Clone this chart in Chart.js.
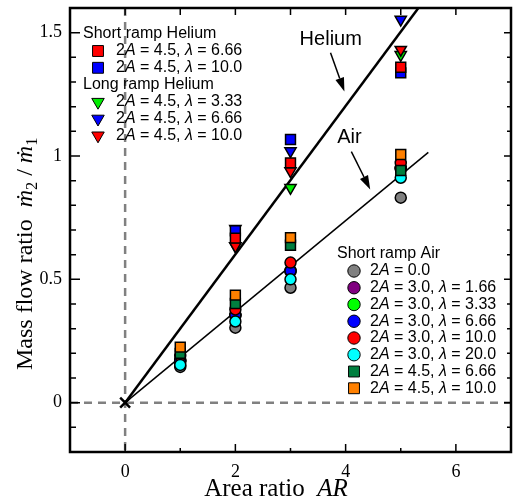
<!DOCTYPE html>
<html>
<head>
<meta charset="utf-8">
<script src="https://cdn.jsdelivr.net/npm/chart.js@4"></script>
<style>
  html, body { margin: 0; padding: 0; background: #fff; }
  canvas { display: block; }
</style>
</head>
<body>
<canvas id="chart" width="513" height="502"></canvas>
<script>
// ---- data ----
const airX = [1, 2, 3, 5];
const air00 = [0.145, 0.304, 0.466, 0.831];
const air30l166 = [0.168, 0.352, 0.532, 0.948];
const air30l333 = [0.172, 0.357, 0.536, 0.952];
const air30l666 = [0.170, 0.355, 0.534, 0.950];
const air30l10 = [0.190, 0.378, 0.568, 0.972];
const air30l20 = [0.153, 0.329, 0.500, 0.912];
const air45l666 = [0.200, 0.402, 0.638, 0.941];
const air45l10 = [0.225, 0.436, 0.669, 1.006];

const heX = [2, 3, 5];
const heShort666 = [0.667, 0.972, 1.360];
const heShort10 = [0.697, 1.067, 1.337];
const heLong333 = [0.635, 0.871, 1.410];
const heLong666 = [0.705, 1.020, 1.553];
const heLong10 = [0.635, 0.939, 1.431];

// fitted lines (end points)
const heliumFitX = [0, 5.32];
const heliumFitY = [0, 1.6];
const airFitX = [0, 5.5];
const airFitY = [0, 1.015];

const xMajor = [0, 2, 4, 6];
const xMinor = [1, 3, 5];
const yMajor = [0, 0.5, 1, 1.5];
const yMinor = [-0.1, 0.1, 0.2, 0.3, 0.4, 0.6, 0.7, 0.8, 0.9, 1.1, 1.2, 1.3, 1.4];
const xTop = [0, 1, 2, 3, 4, 5, 6];

const heHeaders = ['Short ramp Helium', 'Long ramp Helium'];
const heShortLabels = ['2A = 4.5, λ = 6.66', '2A = 4.5, λ = 10.0'];
const heLongLabels = ['2A = 4.5, λ = 3.33', '2A = 4.5, λ = 6.66', '2A = 4.5, λ = 10.0'];
const airHeader = 'Short ramp Air';
const airLabels = ['2A = 0.0', '2A = 3.0, λ = 1.66', '2A = 3.0, λ = 3.33', '2A = 3.0, λ = 6.66',
  '2A = 3.0, λ = 10.0', '2A = 3.0, λ = 20.0', '2A = 4.5, λ = 6.66', '2A = 4.5, λ = 10.0'];

// annotation anchors in data units
const notes = [
  { text: 'Helium', x: 3.73, y: 1.472, from: [3.726, 1.419], to: [3.978, 1.261] },
  { text: 'Air', x: 4.07, y: 1.075, from: [4.104, 1.018], to: [4.446, 0.864] }
];

const pts = (xs, ys) => xs.map((x, i) => ({ x: x, y: ys[i] }));

const SQ = { pointStyle: 'rect', pointRadius: 7 };
const CI = { pointStyle: 'circle', pointRadius: 5.5 };
const TR = { pointStyle: 'triangle', pointRadius: 6.5, rotation: 180 };

const airStyles = [
  Object.assign({ backgroundColor: '#808080' }, CI),
  Object.assign({ backgroundColor: '#800080' }, CI),
  Object.assign({ backgroundColor: '#00ff00' }, CI),
  Object.assign({ backgroundColor: '#0000ff' }, CI),
  Object.assign({ backgroundColor: '#ff0000' }, CI),
  Object.assign({ backgroundColor: '#00ffff' }, CI),
  Object.assign({ backgroundColor: '#007f3f' }, SQ),
  Object.assign({ backgroundColor: '#ff8000' }, SQ)
];
const heShortStyles = [
  Object.assign({ backgroundColor: '#ff0000' }, SQ),
  Object.assign({ backgroundColor: '#0000ff' }, SQ)
];
const heLongStyles = [
  Object.assign({ backgroundColor: '#00ee00' }, TR),
  Object.assign({ backgroundColor: '#0000ff' }, TR),
  Object.assign({ backgroundColor: '#ff0000' }, TR)
];

// draw order bottom -> top
const markerSets = [
  [airX, air00, airStyles[0]],
  [airX, air30l166, airStyles[1]],
  [airX, air30l333, airStyles[2]],
  [airX, air30l666, airStyles[3]],
  [airX, air30l10, airStyles[4]],
  [airX, air30l20, airStyles[5]],
  [airX, air45l666, airStyles[6]],
  [airX, air45l10, airStyles[7]],
  [heX, heLong333, heLongStyles[0]],
  [heX, heLong666, heLongStyles[1]],
  [heX, heLong10, heLongStyles[2]],
  [heX, heShort10, heShortStyles[1]],
  [heX, heShort666, heShortStyles[0]]
];

const datasets = markerSets.map((m, i) => Object.assign({
  data: pts(m[0], m[1]),
  borderColor: '#000',
  borderWidth: 1.5,
  order: 50 - i
}, m[2]));

datasets.push({
  data: pts(heliumFitX, heliumFitY), showLine: true, borderColor: '#000',
  borderWidth: 2.5, pointRadius: 0, order: 200
});
datasets.push({
  data: pts(airFitX, airFitY), showLine: true, borderColor: '#000',
  borderWidth: 1.5, pointRadius: 0, order: 199
});
datasets.push({
  data: [{ x: 0, y: 0 }], pointStyle: 'crossRot', pointRadius: 7,
  borderColor: '#000', borderWidth: 2.5, order: 1
});

const SANS = '"Liberation Sans", Arial, sans-serif';
const SERIF = '"Liberation Serif", "Times New Roman", serif';
const AREA = { left: 70, right: 511, top: 8, bottom: 452 };

function richText(ctx, x, y, segs, size, family) {
  let cx = x;
  for (const s of segs) {
    const sz = s.sub ? size * 0.68 : size;
    ctx.font = (s.it ? 'italic ' : '') + sz + 'px ' + family;
    ctx.fillText(s.t, cx, y + (s.sub ? size * 0.22 : 0));
    cx += ctx.measureText(s.t).width;
  }
  return cx - x;
}

function richWidth(ctx, segs, size, family) {
  let w = 0;
  segs.forEach(s => {
    ctx.font = (s.it ? 'italic ' : '') + (s.sub ? size * 0.68 : size) + 'px ' + family;
    w += ctx.measureText(s.t).width;
  });
  return w;
}

function labelSegs(str) {
  const segs = [];
  for (const ch of str) {
    const it = ch === 'A' || ch === 'λ';
    const last = segs[segs.length - 1];
    if (last && last.it === it) last.t += ch;
    else segs.push({ t: ch, it: it });
  }
  return segs;
}

function marker(ctx, style, x, y) {
  Chart.helpers.drawPoint(ctx, {
    pointStyle: style.pointStyle, radius: style.pointRadius + 0.7,
    rotation: style.rotation || 0, borderWidth: 1.5
  }, x, y);
}

const framePlugin = {
  id: 'frame',
  afterLayout(chart) {
    // pin the plot box to the reference position
    const a = chart.chartArea, x = chart.scales.x, y = chart.scales.y;
    Object.assign(a, AREA);
    a.width = AREA.right - AREA.left;
    a.height = AREA.bottom - AREA.top;
    x.left = AREA.left; x.right = AREA.right; x.width = a.width;
    x.top = AREA.bottom; x.bottom = AREA.bottom + 50;
    y.top = AREA.top; y.bottom = AREA.bottom; y.height = a.height;
    y.left = 0; y.right = AREA.left;
    x.configure(); y.configure();
    x._labelItems = null; y._labelItems = null;
  },
  beforeDatasetsDraw(chart) {
    const { ctx, chartArea: a, scales: { x, y } } = chart;
    ctx.save();
    ctx.strokeStyle = '#808080';
    ctx.lineWidth = 2.5;
    ctx.setLineDash([8, 6]);
    ctx.beginPath();
    ctx.moveTo(x.getPixelForValue(0), a.top);
    ctx.lineTo(x.getPixelForValue(0), a.bottom);
    ctx.moveTo(a.left, y.getPixelForValue(0));
    ctx.lineTo(a.right, y.getPixelForValue(0));
    ctx.stroke();
    ctx.restore();
  },
  afterDatasetsDraw(chart) {
    const { ctx, chartArea: a, scales: { x, y } } = chart;
    ctx.save();
    ctx.strokeStyle = '#000';
    ctx.lineWidth = 1.5;
    ctx.beginPath();
    const tick = (x1, y1, x2, y2) => { ctx.moveTo(x1, y1); ctx.lineTo(x2, y2); };
    xMajor.forEach(v => { const p = x.getPixelForValue(v); tick(p, a.bottom, p, a.bottom - 8); });
    xMinor.forEach(v => { const p = x.getPixelForValue(v); tick(p, a.bottom, p, a.bottom - 4); });
    xTop.forEach(v => { const p = x.getPixelForValue(v); tick(p, a.top, p, a.top + 7); });
    yMajor.forEach(v => {
      const p = y.getPixelForValue(v);
      tick(a.left, p, a.left + 10, p); tick(a.right, p, a.right - 7, p);
    });
    yMinor.forEach(v => {
      const p = y.getPixelForValue(v);
      tick(a.left, p, a.left + 6, p); tick(a.right, p, a.right - 4, p);
    });
    ctx.stroke();
    ctx.lineWidth = 2.5;
    ctx.strokeRect(a.left, a.top, a.right - a.left, a.bottom - a.top);
    ctx.restore();
  },
  afterDraw(chart) {
    const { ctx, scales: { x, y } } = chart;
    ctx.save();
    ctx.fillStyle = '#000';
    ctx.strokeStyle = '#000';
    ctx.textBaseline = 'middle';

    // helium legend
    ctx.font = '16px ' + SANS;
    ctx.fillText(heHeaders[0], 83, 34);
    heShortLabels.forEach((t, i) => {
      const yy = 51 + i * 16.8;
      ctx.fillStyle = heShortStyles[i].backgroundColor;
      marker(ctx, heShortStyles[i], 98, yy);
      ctx.fillStyle = '#000';
      richText(ctx, 116, yy, labelSegs(t), 16, SANS);
    });
    ctx.font = '16px ' + SANS;
    ctx.fillText(heHeaders[1], 83, 85);
    heLongLabels.forEach((t, i) => {
      const yy = 102 + i * 16.8;
      ctx.fillStyle = heLongStyles[i].backgroundColor;
      marker(ctx, heLongStyles[i], 98, yy);
      ctx.fillStyle = '#000';
      richText(ctx, 116, yy, labelSegs(t), 16, SANS);
    });

    // air legend
    ctx.font = '16px ' + SANS;
    ctx.fillText(airHeader, 337, 254);
    airLabels.forEach((t, i) => {
      const yy = 271 + i * 16.75;
      ctx.fillStyle = airStyles[i].backgroundColor;
      marker(ctx, airStyles[i], 354, yy);
      ctx.fillStyle = '#000';
      richText(ctx, 370, yy, labelSegs(t), 16, SANS);
    });

    // line notes with arrows
    notes.forEach(n => {
      ctx.font = '20px ' + SANS;
      ctx.textAlign = 'center';
      ctx.fillText(n.text, x.getPixelForValue(n.x), y.getPixelForValue(n.y));
      ctx.textAlign = 'left';
      const x1 = x.getPixelForValue(n.from[0]), y1 = y.getPixelForValue(n.from[1]);
      const x2 = x.getPixelForValue(n.to[0]), y2 = y.getPixelForValue(n.to[1]);
      const ang = Math.atan2(y2 - y1, x2 - x1);
      const hl = 14, hw = 4.5;
      ctx.lineWidth = 1.5;
      ctx.beginPath();
      ctx.moveTo(x1, y1);
      ctx.lineTo(x2 - hl * Math.cos(ang), y2 - hl * Math.sin(ang));
      ctx.stroke();
      ctx.beginPath();
      ctx.moveTo(x2, y2);
      ctx.lineTo(x2 - hl * Math.cos(ang) + hw * Math.sin(ang), y2 - hl * Math.sin(ang) - hw * Math.cos(ang));
      ctx.lineTo(x2 - hl * Math.cos(ang) - hw * Math.sin(ang), y2 - hl * Math.sin(ang) + hw * Math.cos(ang));
      ctx.closePath();
      ctx.fill();
    });

    // axis titles
    ctx.textBaseline = 'alphabetic';
    const xt = [{ t: 'Area ratio  ' }, { t: 'AR', it: true }];
    const xw = richWidth(ctx, xt, 25, SERIF);
    richText(ctx, 276 - xw / 2, 496, xt, 25, SERIF);

    const yt = [{ t: 'Mass flow ratio  ' }, { t: 'ṁ', it: true }, { t: '2', sub: true },
      { t: ' / ' }, { t: 'ṁ', it: true }, { t: '1', sub: true }];
    ctx.translate(32, 370);
    ctx.rotate(-Math.PI / 2);
    richText(ctx, 0, 0, yt, 24, SERIF);
    ctx.restore();
  }
};

new Chart(document.getElementById('chart').getContext('2d'), {
  type: 'scatter',
  data: { datasets: datasets },
  options: {
    responsive: false,
    animation: false,
    layout: { padding: { left: 0, right: 2, top: 8, bottom: 0 } },
    plugins: { legend: { display: false }, tooltip: { enabled: false } },
    scales: {
      x: {
        type: 'linear', min: -1, max: 7,
        afterBuildTicks: s => { s.ticks = xMajor.map(v => ({ value: v })); },
        afterFit: s => { s.height = 50; },
        ticks: { font: { family: SERIF, size: 18 }, color: '#000', padding: 9, maxRotation: 0, autoSkip: false,
          callback: v => String(v) },
        grid: { display: false, drawTicks: false, tickLength: 0 },
        border: { display: false }
      },
      y: {
        type: 'linear', min: -0.2, max: 1.6,
        afterBuildTicks: s => { s.ticks = yMajor.map(v => ({ value: v })); },
        afterFit: s => { s.width = 70; },
        ticks: { font: { family: SERIF, size: 18 }, color: '#000', padding: 8, autoSkip: false,
          callback: v => String(v) },
        grid: { display: false, drawTicks: false, tickLength: 0 },
        border: { display: false }
      }
    }
  },
  plugins: [framePlugin]
});
</script>
</body>
</html>
